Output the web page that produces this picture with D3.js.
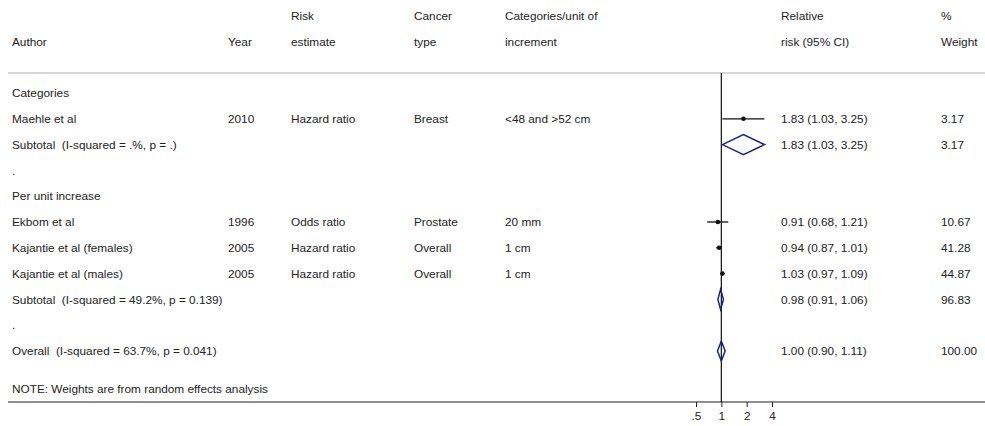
<!DOCTYPE html>
<html>
<head>
<meta charset="utf-8">
<script src="https://cdn.jsdelivr.net/npm/d3@7"></script>
<style>
  html, body { margin: 0; padding: 0; background: #fff; }
  svg text { font-family: "Liberation Sans", Arial, sans-serif; font-size: 11.8px; fill: #222; white-space: pre; }
</style>
</head>
<body>
<svg id="chart" width="985" height="426"></svg>
<script>
// Row labels and study attributes
const authors = ["Categories", "Maehle et al", "Subtotal  (I-squared = .%, p = .)", ".",
  "Per unit increase", "Ekbom et al", "Kajantie et al (females)", "Kajantie et al (males)",
  "Subtotal  (I-squared = 49.2%, p = 0.139)", ".", "Overall  (I-squared = 63.7%, p = 0.041)"];
const rowTypes = ["header", "study", "subtotal", "blank", "header", "study", "study", "study", "subtotal", "blank", "overall"];
const years = ["", "2010", "", "", "", "1996", "2005", "2005", "", "", ""];
const riskEstimates = ["", "Hazard ratio", "", "", "", "Odds ratio", "Hazard ratio", "Hazard ratio", "", "", ""];
const cancerTypes = ["", "Breast", "", "", "", "Prostate", "Overall", "Overall", "", "", ""];
const increments = ["", "<48 and >52 cm", "", "", "", "20 mm", "1 cm", "1 cm", "", "", ""];

// Effect estimates (relative risk with 95% CI) and weights
const rr    = [null, 1.83, 1.83, null, null, 0.91, 0.94, 1.03, 0.98, null, 1.00];
const lower = [null, 1.03, 1.03, null, null, 0.68, 0.87, 0.97, 0.91, null, 0.90];
const upper = [null, 3.25, 3.25, null, null, 1.21, 1.01, 1.09, 1.06, null, 1.11];
const weights = ["", "3.17", "3.17", "", "", "10.67", "41.28", "44.87", "96.83", "", "100.00"];

const axisTicks = [0.5, 1, 2, 4];
const axisTickLabels = [".5", "1", "2", "4"];

const svg = d3.select("#chart");
const W = 985;

const x = d3.scaleLog().domain([0.5, 4]).range([696, 772]);
const y = d3.scaleLinear().domain([0, 10]).range([93, 351]);

const cols = { author: 12, year: 228, risk: 291, cancer: 414, incr: 505, rr: 781, wt: 941 };
const fmt = d3.format(".2f");

// Column headings
const head = svg.append("g");
[[cols.risk, "Risk", 16], [cols.cancer, "Cancer", 16], [cols.incr, "Categories/unit of", 16],
 [cols.rr, "Relative", 16], [cols.wt, "%", 16],
 [cols.author, "Author", 42], [cols.year, "Year", 42], [cols.risk, "estimate", 42],
 [cols.cancer, "type", 42], [cols.incr, "increment", 42], [cols.rr, "risk (95% CI)", 42], [cols.wt, "Weight", 42]]
  .forEach(([cx, t, cy]) => head.append("text").attr("x", cx).attr("y", cy).attr("dy", "0.35em").text(t));

// Top rule and bottom axis rule
svg.append("line").attr("x1", 8).attr("x2", W).attr("y1", 73).attr("y2", 73)
  .attr("stroke", "#c8c8c8").attr("stroke-width", 1.5);
svg.append("line").attr("x1", 8).attr("x2", W).attr("y1", 402).attr("y2", 402)
  .attr("stroke", "#222").attr("stroke-width", 1.2);

// Null line at RR = 1
svg.append("line").attr("x1", x(1)).attr("x2", x(1)).attr("y1", 73).attr("y2", 402)
  .attr("stroke", "#111").attr("stroke-width", 1.2);

// Table text
const rows = svg.append("g");
authors.forEach((a, i) => {
  const yy = y(i);
  rows.append("text").attr("x", cols.author).attr("y", yy).attr("dy", "0.35em").text(a);
  if (years[i]) rows.append("text").attr("x", cols.year).attr("y", yy).attr("dy", "0.35em").text(years[i]);
  if (riskEstimates[i]) rows.append("text").attr("x", cols.risk).attr("y", yy).attr("dy", "0.35em").text(riskEstimates[i]);
  if (cancerTypes[i]) rows.append("text").attr("x", cols.cancer).attr("y", yy).attr("dy", "0.35em").text(cancerTypes[i]);
  if (increments[i]) rows.append("text").attr("x", cols.incr).attr("y", yy).attr("dy", "0.35em").text(increments[i]);
  if (rr[i] !== null) {
    rows.append("text").attr("x", cols.rr).attr("y", yy).attr("dy", "0.35em")
      .text(`${fmt(rr[i])} (${fmt(lower[i])}, ${fmt(upper[i])})`);
  }
  if (weights[i]) rows.append("text").attr("x", cols.wt).attr("y", yy).attr("dy", "0.35em").text(weights[i]);
});

rows.append("text").attr("x", cols.author).attr("y", 389).attr("dy", "0.35em")
  .text("NOTE: Weights are from random effects analysis");

// Study estimates: CI whiskers and point
const marks = svg.append("g");
rowTypes.forEach((t, i) => {
  if (t !== "study") return;
  const yy = y(i);
  marks.append("line").attr("x1", x(lower[i])).attr("x2", x(upper[i]))
    .attr("y1", yy).attr("y2", yy).attr("stroke", "#111").attr("stroke-width", 1.3);
  marks.append("circle").attr("cx", x(rr[i])).attr("cy", yy).attr("r", 2.3).attr("fill", "#111");
});

// Pooled estimates as diamonds
rowTypes.forEach((t, i) => {
  if (t !== "subtotal" && t !== "overall") return;
  const yy = y(i), h = 10;
  const pts = [[x(lower[i]), yy], [x(rr[i]), yy - h], [x(upper[i]), yy], [x(rr[i]), yy + h]];
  marks.append("polygon").attr("points", pts.map(p => p.join(",")).join(" "))
    .attr("fill", "none").attr("stroke", "#1a237e").attr("stroke-width", 1.5);
});

// Log-scale axis
const axis = d3.axisBottom(x).tickValues(axisTicks).tickSize(5)
  .tickFormat((d, i) => axisTickLabels[i]);
const ag = svg.append("g").attr("transform", "translate(0,402)").call(axis);
ag.select(".domain").remove();
ag.selectAll(".tick line").attr("stroke", "#222");
ag.selectAll(".tick text").attr("y", 10).attr("fill", "#222")
  .style("font-size", "11.8px").style("font-family", "Liberation Sans, Arial, sans-serif");
</script>
</body>
</html>
